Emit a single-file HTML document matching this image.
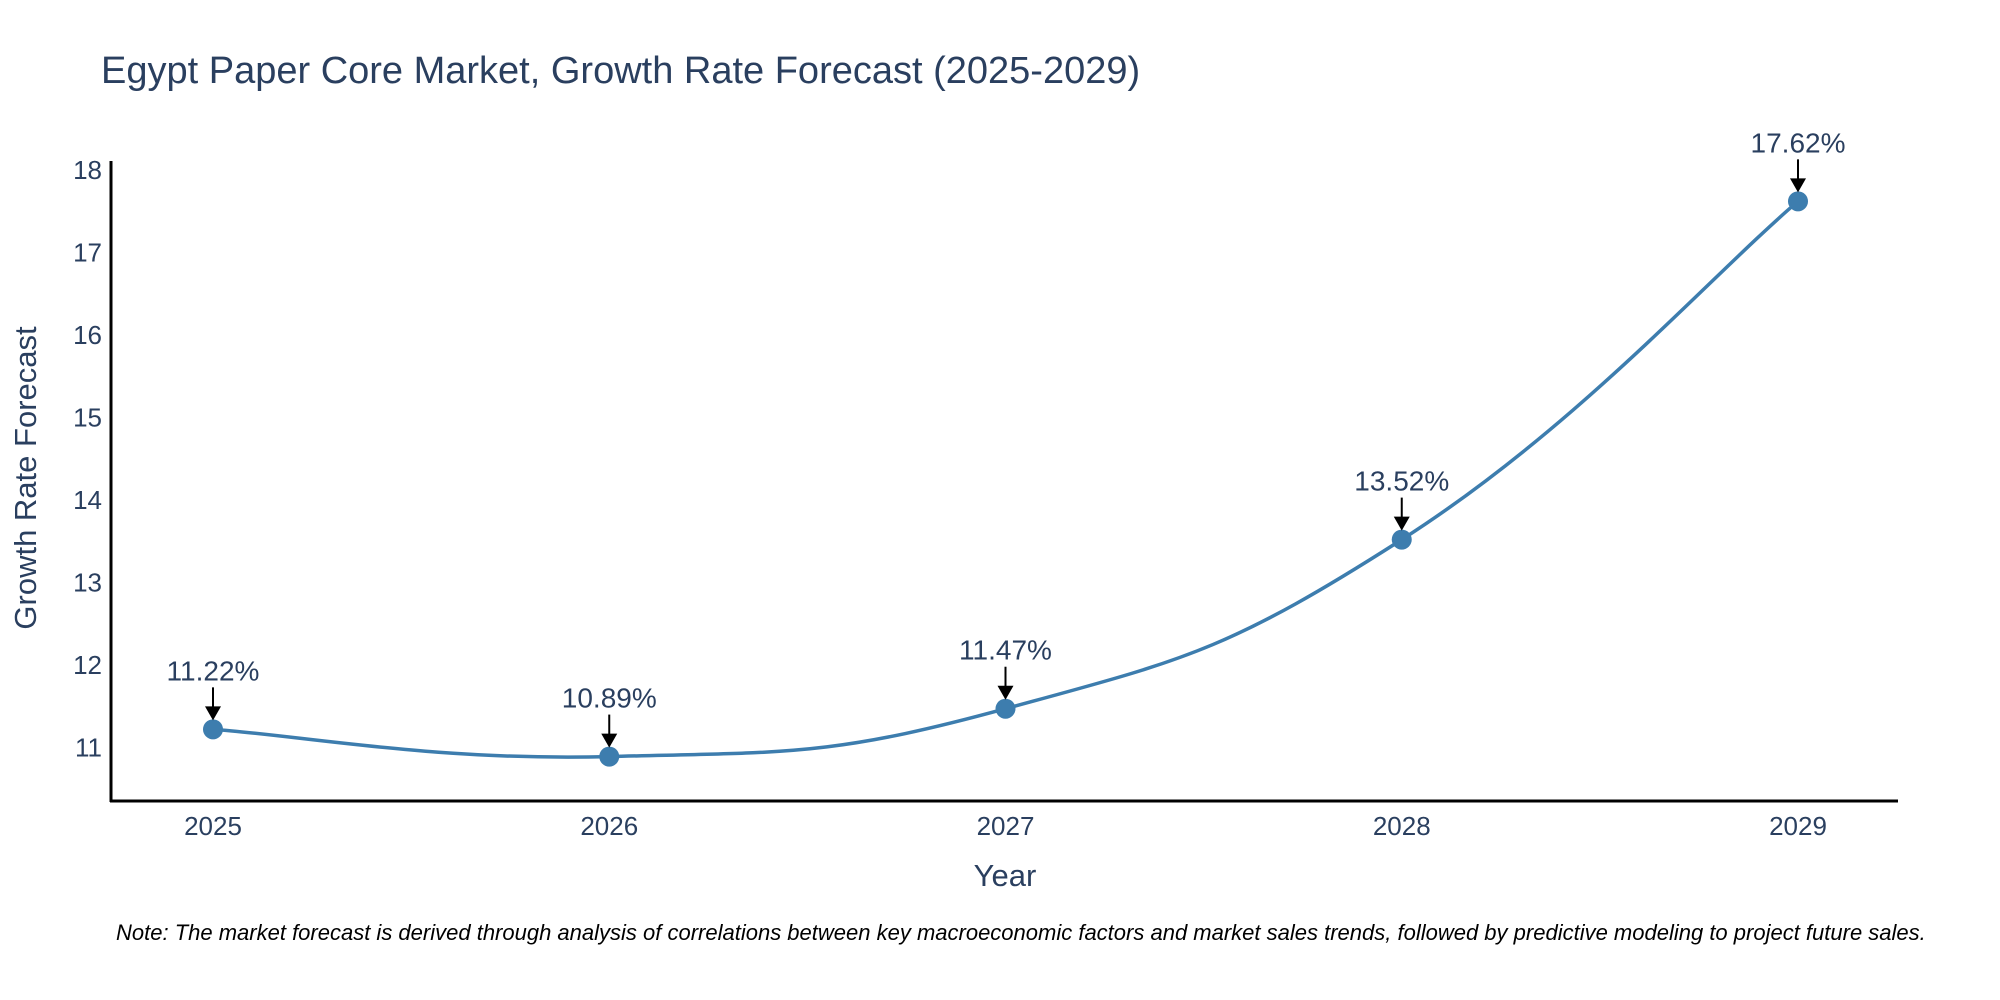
<!DOCTYPE html>
<html><head><meta charset="utf-8"><style>
body{margin:0;background:#fff;}
svg{display:block;font-family:"Liberation Sans",sans-serif;}
</style></head><body>
<svg width="2000" height="1000" viewBox="0 0 2000 1000" id="chart">
<text x="101" y="83" font-size="38" fill="#2a3f5f">Egypt Paper Core Market, Growth Rate Forecast (2025-2029)</text>
<g id="yticks"></g><g id="xticks"></g>
<line x1="111" y1="161" x2="111" y2="802" stroke="#000" stroke-width="3"/>
<line x1="110" y1="801" x2="1898" y2="801" stroke="#000" stroke-width="3"/>
<text transform="translate(36,478) rotate(-90)" text-anchor="middle" font-size="31" fill="#2a3f5f">Growth Rate Forecast</text>
<text x="1005" y="886" text-anchor="middle" font-size="31" fill="#2a3f5f">Year</text>
<g id="plot"></g>
<text x="116" y="940" font-size="22" font-style="italic" fill="#000">Note: The market forecast is derived through analysis of correlations between key macroeconomic factors and market sales trends, followed by predictive modeling to project future sales.</text>
</svg>
<script>
const years=["2025","2026","2027","2028","2029"];
const values=[11.22,10.89,11.47,13.52,17.62];
const labels=["11.22%","10.89%","11.47%","13.52%","17.62%"];
const yTicks=[11,12,13,14,15,16,17,18];
const NS="http://www.w3.org/2000/svg";
function xs(i){return 213+i*396.25;}
function ys(v){return 747.5-(v-11)*82.5;}
function mk(t,a,p){const e=document.createElementNS(NS,t);for(const k in a)e.setAttribute(k,a[k]);p.appendChild(e);return e;}
const yt=document.getElementById('yticks');
yTicks.forEach(v=>{const t=mk('text',{x:102,y:ys(v)+9,'text-anchor':'end','font-size':26,fill:'#2a3f5f'},yt);t.textContent=v;

});
const xt=document.getElementById('xticks');
years.forEach((y,i)=>{const t=mk('text',{x:xs(i),y:835,'text-anchor':'middle','font-size':26,fill:'#2a3f5f'},xt);t.textContent=y;

});
const plot=document.getElementById('plot');
const pts=values.map((v,i)=>[xs(i),ys(v)]);
let d=`M${pts[0][0]},${pts[0][1]}`;
for(let i=0;i<pts.length-1;i++){const p0=pts[Math.max(i-1,0)],p1=pts[i],p2=pts[i+1],p3=pts[Math.min(i+2,pts.length-1)];const s=4.5;
d+=` C${p1[0]+(p2[0]-p0[0])/s},${p1[1]+(p2[1]-p0[1])/s} ${p2[0]-(p3[0]-p1[0])/s},${p2[1]-(p3[1]-p1[1])/s} ${p2[0]},${p2[1]}`;}
const line=mk('path',{d:d,fill:'none',stroke:'#3d7dae','stroke-width':3.5},plot);


pts.forEach((p,i)=>{
const c=mk('circle',{cx:p[0],cy:p[1],r:10,fill:'#3d7dae'},plot);


const l=mk('line',{x1:p[0],y1:p[1]-42,x2:p[0],y2:p[1]-20,stroke:'#000','stroke-width':2},plot);


const h=mk('polygon',{points:`${p[0]-8},${p[1]-23} ${p[0]+8},${p[1]-23} ${p[0]},${p[1]-9}`,fill:'#000'},plot);


const t=mk('text',{x:p[0],y:p[1]-49,'text-anchor':'middle','font-size':28,fill:'#2a3f5f'},plot);t.textContent=labels[i];


});
</script>
</body></html>
